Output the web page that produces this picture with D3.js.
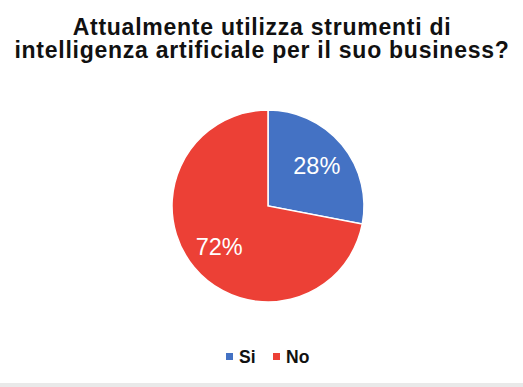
<!DOCTYPE html>
<html>
<head>
<meta charset="utf-8">
<script src="https://cdn.jsdelivr.net/npm/d3@7"></script>
<style>
  html, body { margin: 0; padding: 0; background: #ffffff; }
  svg { display: block; }
</style>
</head>
<body>
<svg id="chart" width="523" height="387"></svg>
<script>
// Survey answers
const categories = ["Si", "No"];
const values = [28, 72];
const colors = ["#4472C4", "#EC4036"];
const titleLines = [
  "Attualmente utilizza strumenti di",
  "intelligenza artificiale per il suo business?"
];

const W = 523, H = 387;
const svg = d3.select("#chart");

svg.append("rect").attr("x", 0).attr("y", 0).attr("width", W).attr("height", H).attr("fill", "#ffffff");
// faint grey strip along the bottom edge
svg.append("rect").attr("x", 0).attr("y", H - 4).attr("width", W).attr("height", 4).attr("fill", "#e9e9e9");

// Title, two tightly spaced lines
svg.append("text")
  .attr("text-anchor", "middle")
  .attr("font-family", "Liberation Sans, Arial, sans-serif")
  .attr("font-weight", "bold")
  .attr("font-size", 23)
  .attr("letter-spacing", 0.75)
  .attr("fill", "#111111")
  .selectAll("tspan")
  .data(titleLines)
  .join("tspan")
  .attr("x", 262)
  .attr("y", (d, i) => 35 + i * 22.5)
  .text(d => d);

// Pie
const cx = 268, cy = 206, r = 96;
const pie = d3.pie().sort(null).value(d => d)(values);
const arc = d3.arc().innerRadius(0).outerRadius(r);
const labelArc = d3.arc().innerRadius(r * 0.66).outerRadius(r * 0.66);

const g = svg.append("g").attr("transform", `translate(${cx},${cy})`);
g.selectAll("path")
  .data(pie)
  .join("path")
  .attr("d", arc)
  .attr("fill", (d, i) => colors[i])
  .attr("stroke", "#ffffff")
  .attr("stroke-width", 1.5);

g.selectAll("text")
  .data(pie)
  .join("text")
  .attr("transform", d => `translate(${labelArc.centroid(d)})`)
  .attr("text-anchor", "middle")
  .attr("dy", "0.36em")
  .attr("font-family", "Liberation Sans, Arial, sans-serif")
  .attr("font-size", 23.5)
  .attr("fill", "#ffffff")
  .text(d => d.data + "%");

// Legend
const legendX = [226, 273];
const legend = svg.append("g");
categories.forEach((c, i) => {
  legend.append("rect")
    .attr("x", legendX[i]).attr("y", 353)
    .attr("width", 7).attr("height", 7)
    .attr("fill", colors[i]);
  legend.append("text")
    .attr("x", legendX[i] + 13).attr("y", 363)
    .attr("font-family", "Liberation Sans, Arial, sans-serif")
    .attr("font-weight", "bold")
    .attr("font-size", 17.5)
    .attr("fill", "#111111")
    .text(c);
});
</script>
</body>
</html>
